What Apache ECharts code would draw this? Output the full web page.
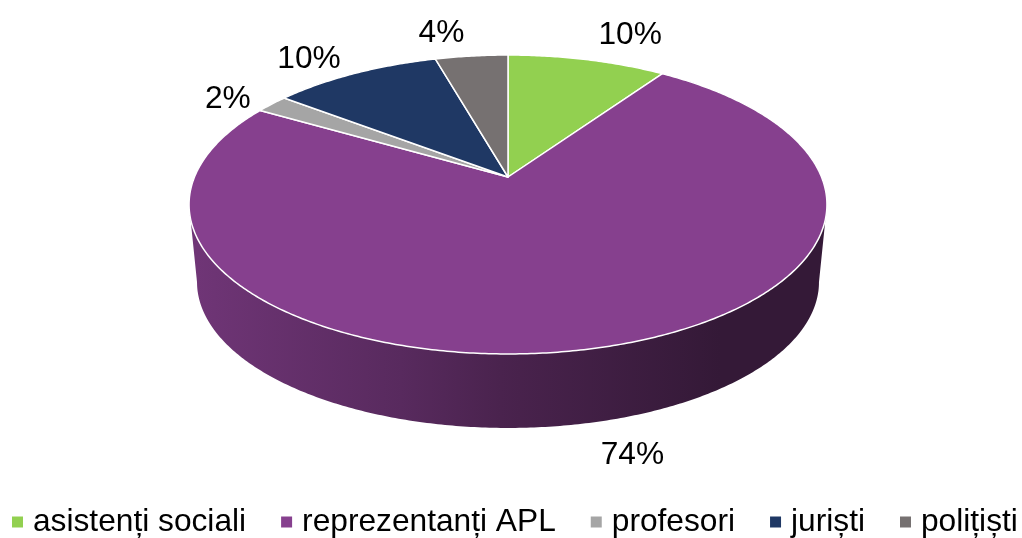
<!DOCTYPE html>
<html>
<head>
<meta charset="utf-8">
<style>
  html, body { margin: 0; padding: 0; background: #fff; }
  #chart { width: 1022px; height: 538px; }
</style>
<script src="https://cdn.jsdelivr.net/npm/echarts@6/dist/echarts.min.js"></script>
</head>
<body>
<div id="chart"></div>
<script>
const categories = ['asistenți sociali', 'reprezentanți APL', 'profesori', 'juriști', 'polițiști'];
const values = [9.6, 73.8, 2.0, 10.2, 4.4];
const percentLabels = ['10%', '74%', '2%', '10%', '4%'];
const colors = ['#92D050', '#86408E', '#A5A5A5', '#1F3864', '#767171'];

// perspective of the disc: the centre of the pie does not sit in the middle of the ellipse
const VIEW = { cx: 508, cy: 177, a: 313.5, b: 144.4, k: 0.184, baseY: 255.4, baseScale: 0.975 };
const WALL_STOPS = [[0, 0.83], [0.39, 0.66], [0.58, 0.55], [1, 0.39]];
const WALL_X = [197, 720];
const LABEL_NUDGE = [[43, -24], [41, 106], [-44, -5], [-46, -14], [-30, -23]];
const FONT = '"Liberation Sans", Arial, sans-serif';
const FONT_SIZE = 31.7;

const total = values.reduce((s, v) => s + v, 0);
let acc = 0;
const slices = values.map(v => {
  const start = acc / total * Math.PI * 2;
  acc += v;
  return { start, end: acc / total * Math.PI * 2 };
});

// the side wall only shows between the two widest points of the disc
const wallStart = Math.acos(-VIEW.k);
const wallEnd = Math.PI * 2 - wallStart;

function topPoint(angle) {
  const u = Math.sin(angle), v = -Math.cos(angle);
  const w = 1 - VIEW.k * v;
  return [VIEW.cx + VIEW.a * u / w, VIEW.cy + VIEW.b * v / w];
}

function basePoint(angle) {
  const p = topPoint(angle);
  return [VIEW.cx + (p[0] - VIEW.cx) * VIEW.baseScale, VIEW.baseY + (p[1] - VIEW.cy) * VIEW.baseScale];
}

function arc(fn, s) {
  const steps = Math.max(2, Math.ceil((s.end - s.start) / 0.01));
  const pts = [];
  for (let i = 0; i <= steps; i++) pts.push(fn(s.start + (s.end - s.start) * i / steps));
  return pts;
}

function shade(hex, f) {
  const n = parseInt(hex.slice(1), 16);
  const c = [n >> 16, (n >> 8) & 255, n & 255].map(x => Math.round(x * f));
  return `rgb(${c.join(',')})`;
}

function renderWall(params) {
  const i = params.seriesIndex;
  const s = { start: Math.max(slices[i].start, wallStart), end: Math.min(slices[i].end, wallEnd) };
  if (s.end <= s.start) return null;
  return {
    type: 'polygon',
    shape: { points: arc(topPoint, s).concat(arc(basePoint, s).reverse()) },
    style: {
      fill: new echarts.graphic.LinearGradient(WALL_X[0], 0, WALL_X[1], 0,
        WALL_STOPS.map(t => ({ offset: t[0], color: shade(colors[i], t[1]) })), true)
    }
  };
}

function renderTop(params) {
  const i = params.seriesIndex - values.length;
  const s = slices[i];
  const rim = topPoint((s.start + s.end) / 2);
  return {
    type: 'group',
    children: [{
      type: 'polygon',
      shape: { points: [[VIEW.cx, VIEW.cy]].concat(arc(topPoint, s)) },
      style: { fill: colors[i], stroke: '#fff', lineWidth: 1.5, lineJoin: 'round' }
    }, {
      type: 'text',
      z2: 10,
      style: {
        text: percentLabels[i],
        x: rim[0] + LABEL_NUDGE[i][0],
        y: rim[1] + LABEL_NUDGE[i][1],
        align: 'center',
        verticalAlign: 'middle',
        fill: '#000',
        fontSize: FONT_SIZE,
        fontFamily: FONT
      }
    }]
  };
}

const chart = echarts.init(document.getElementById('chart'));
chart.setOption({
  animation: false,
  legend: {
    data: categories,
    left: 12,
    top: 506,
    padding: 0,
    icon: 'rect',
    itemWidth: 11,
    itemHeight: 11,
    itemGap: 35,
    selectedMode: false,
    textStyle: { color: '#000', fontSize: FONT_SIZE, fontFamily: FONT, padding: [0, 0, 0, 5] }
  },
  series: [
    ...values.map((v, i) => ({
      type: 'custom',
      name: 'wall ' + categories[i],
      coordinateSystem: 'none',
      z: 1,
      silent: true,
      renderItem: renderWall,
      data: [v]
    })),
    ...values.map((v, i) => ({
      type: 'custom',
      name: categories[i],
      coordinateSystem: 'none',
      z: 2,
      silent: true,
      itemStyle: { color: colors[i] },
      renderItem: renderTop,
      data: [v]
    }))
  ]
});
</script>
</body>
</html>
